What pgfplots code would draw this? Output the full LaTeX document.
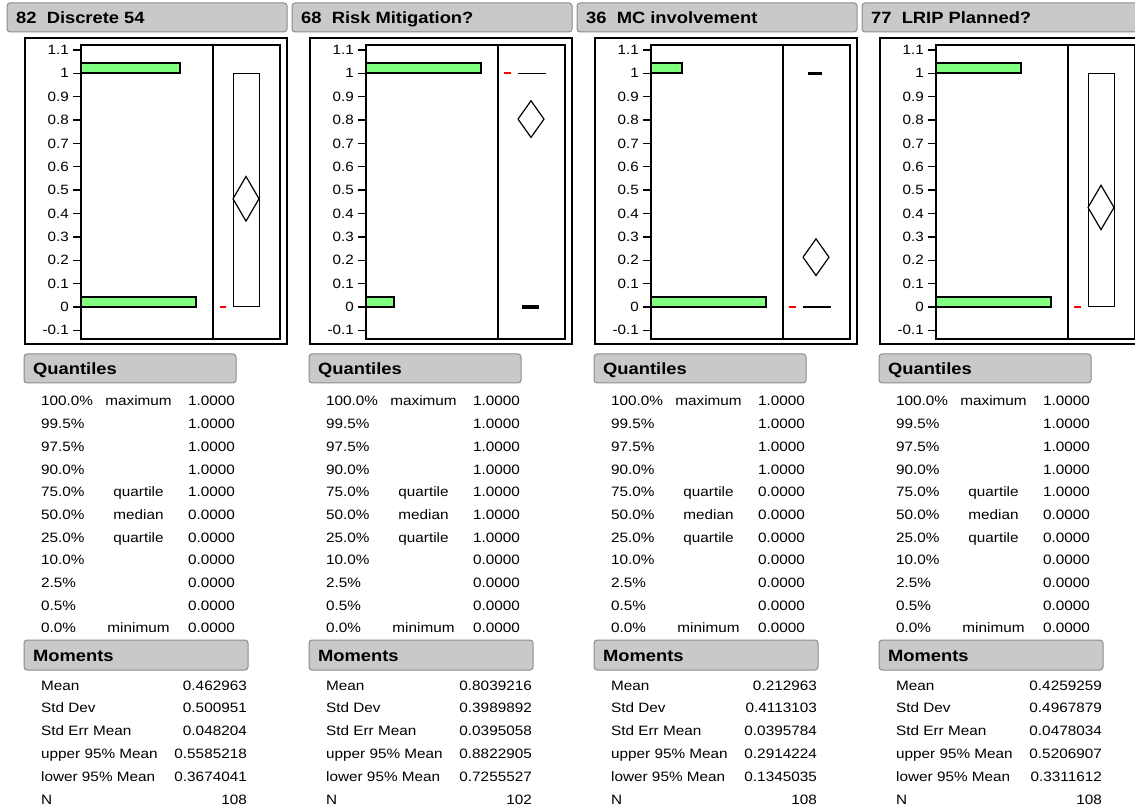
\documentclass[border=0pt]{standalone}
\usepackage{pgfplots}
\pgfplotsset{compat=1.18}
\usepackage{fontspec}
\setmainfont{Liberation Sans}[FakeStretch=1.125]
\definecolor{histgreen}{HTML}{80FF80}
\definecolor{hdrfill}{HTML}{C9C9C9}
\definecolor{hdrdraw}{HTML}{8C8C8C}
\newcommand\tabfont{\fontsize{13.6}{13.6}\selectfont}
\newcommand\hdrfont{\fontsize{16.3}{16.3}\selectfont\bfseries}
\pgfplotsset{
  histax/.style={
    scale only axis, width=132pt, height=294pt, anchor=south west,
    ymin=-0.137, ymax=1.121, xmin=0,
    axis line style={line width=1.3pt},
    xtick=\empty,
    ytick={-0.1,0,0.1,0.2,0.3,0.4,0.5,0.6,0.7,0.8,0.9,1,1.1},
    yticklabels={-0.1,0,0.1,0.2,0.3,0.4,0.5,0.6,0.7,0.8,0.9,1,1.1},
    ytick pos=left, tick align=outside, major tick length=8pt,
    tick style={black, line width=1.3pt},
    yticklabel style={font=\fontsize{13.5}{13.5}\selectfont, inner sep=0pt, xshift=-4pt},
    clip=false,
  },
  boxax/.style={
    scale only axis, width=67pt, height=294pt, anchor=south west,
    ymin=-0.137, ymax=1.121, xmin=0, xmax=67,
    axis line style={line width=1.3pt},
    xtick=\empty, ytick=\empty, clip=false,
  },
  hbar/.style={xbar, bar width=0.044, bar shift=0.022, fill=histgreen, draw=black, line width=1.8pt},
  boxline/.style={black, line width=1pt},
  diam/.style={black, line width=1.2pt},
  outl/.style={black, line width=3.5pt},
  shorthalf/.style={red, line width=1.6pt},
}
% common frame, headers and quantile labels of one panel
\newcommand\panelframe[1]{%
  \draw[hdrdraw, fill=hdrfill, line width=1pt, rounded corners=3pt] (7pt,777pt) rectangle (287pt,806pt);
  \node[anchor=base west, inner sep=0pt, font=\hdrfont] at (16pt,785.6pt) {#1};
  \draw[black, line width=1.3pt] (25pt,465pt) rectangle (287pt,771pt);
  \draw[hdrdraw, fill=hdrfill, line width=1pt, rounded corners=3pt] (24pt,426pt) rectangle (236pt,455pt);
  \node[anchor=base west, inner sep=0pt, font=\hdrfont] at (33pt,434.5pt) {Quantiles};
  \draw[hdrdraw, fill=hdrfill, line width=1pt, rounded corners=3pt] (24pt,139pt) rectangle (248pt,169pt);
  \node[anchor=base west, inner sep=0pt, font=\hdrfont] at (33pt,148pt) {Moments};
  \foreach \p/\l [count=\i from 0] in {100.0\%/maximum, 99.5\%/, 97.5\%/, 90.0\%/, 75.0\%/quartile, 50.0\%/median, 25.0\%/quartile, 10.0\%/, 2.5\%/, 0.5\%/, 0.0\%/minimum}{
    \node[anchor=base west, inner sep=0pt, font=\tabfont] at (41pt,{403pt-22.67pt*\i}) {\p};
    \node[anchor=base, inner sep=0pt, font=\tabfont] at (138.5pt,{403pt-22.67pt*\i}) {\l};
  }
  \foreach \l [count=\i from 0] in {Mean, Std Dev, Std Err Mean, upper 95\% Mean, lower 95\% Mean, N}{
    \node[anchor=base west, inner sep=0pt, font=\tabfont] at (41pt,{119pt-22.8pt*\i}) {\l};
  }
}
\newcommand\quantvals[1]{%
  \foreach \v [count=\i from 0] in {#1}{
    \node[anchor=base east, inner sep=0pt, font=\tabfont] at (235pt,{403pt-22.67pt*\i}) {\v};
  }
}
\newcommand\momentvals[1]{%
  \foreach \v [count=\i from 0] in {#1}{
    \node[anchor=base east, inner sep=0pt, font=\tabfont] at (247pt,{119pt-22.8pt*\i}) {\v};
  }
}
\begin{document}
\begin{tikzpicture}[x=1pt,y=1pt]
\path[use as bounding box] (0,0) rectangle (1135,809);
\clip (0,0) rectangle (1135,809);
% ---------------- Panel 1 ----------------
\begin{scope}[xshift=0pt]
\panelframe{82\ \ Discrete 54}
\quantvals{1.0000,1.0000,1.0000,1.0000,1.0000,0.0000,0.0000,0.0000,0.0000,0.0000,0.0000}
\momentvals{0.462963,0.500951,0.048204,0.5585218,0.3674041,108}
\begin{axis}[histax, at={(81pt,470pt)}, xmax=66.6]
\addplot[hbar] coordinates {(58,0) (50,1)};
\end{axis}
\begin{axis}[boxax, at={(213pt,470pt)}]
\addplot[boxline] coordinates {(20,0) (46,0) (46,1) (20,1) (20,0)};
\addplot[diam] coordinates {(20,0.462963) (33,0.5585218) (46,0.462963) (33,0.3674041) (20,0.462963)};
\addplot[shorthalf] coordinates {(7,0) (13,0)};
\end{axis}
\end{scope}
% ---------------- Panel 2 ----------------
\begin{scope}[xshift=285pt]
\panelframe{68\ \ Risk Mitigation?}
\quantvals{1.0000,1.0000,1.0000,1.0000,1.0000,1.0000,1.0000,0.0000,0.0000,0.0000,0.0000}
\momentvals{0.8039216,0.3989892,0.0395058,0.8822905,0.7255527,102}
\begin{axis}[histax, at={(81pt,470pt)}, xmax=94.1]
\addplot[hbar] coordinates {(20,0) (82,1)};
\end{axis}
\begin{axis}[boxax, at={(213pt,470pt)}]
\addplot[boxline, line width=1.3pt] coordinates {(20,1) (48,1)};
\addplot[outl] coordinates {(24,0) (41,0)};
\addplot[diam] coordinates {(20,0.8039216) (33,0.8822905) (46,0.8039216) (33,0.7255527) (20,0.8039216)};
\addplot[shorthalf] coordinates {(6,1) (13,1)};
\end{axis}
\end{scope}
% ---------------- Panel 3 ----------------
\begin{scope}[xshift=570pt]
\panelframe{36\ \ MC involvement}
\quantvals{1.0000,1.0000,1.0000,1.0000,0.0000,0.0000,0.0000,0.0000,0.0000,0.0000,0.0000}
\momentvals{0.212963,0.4113103,0.0395784,0.2914224,0.1345035,108}
\begin{axis}[histax, at={(81pt,470pt)}, xmax=97.6]
\addplot[hbar] coordinates {(85,0) (23,1)};
\end{axis}
\begin{axis}[boxax, at={(213pt,470pt)}]
\addplot[boxline, line width=1.3pt] coordinates {(20,0) (48,0)};
\addplot[outl] coordinates {(25,1) (39,1)};
\addplot[diam] coordinates {(20,0.212963) (33,0.2914224) (46,0.212963) (33,0.1345035) (20,0.212963)};
\addplot[shorthalf] coordinates {(6,0) (13,0)};
\end{axis}
\end{scope}
% ---------------- Panel 4 ----------------
\begin{scope}[xshift=855pt]
\panelframe{77\ \ LRIP Planned?}
\quantvals{1.0000,1.0000,1.0000,1.0000,1.0000,0.0000,0.0000,0.0000,0.0000,0.0000,0.0000}
\momentvals{0.4259259,0.4967879,0.0478034,0.5206907,0.3311612,108}
\begin{axis}[histax, at={(81pt,470pt)}, xmax=71.2]
\addplot[hbar] coordinates {(62,0) (46,1)};
\end{axis}
\begin{axis}[boxax, at={(213pt,470pt)}]
\addplot[boxline] coordinates {(20,0) (46,0) (46,1) (20,1) (20,0)};
\addplot[diam] coordinates {(20,0.4259259) (33,0.5206907) (46,0.4259259) (33,0.3311612) (20,0.4259259)};
\addplot[shorthalf] coordinates {(6,0) (13,0)};
\end{axis}
\end{scope}
\end{tikzpicture}
\end{document}
